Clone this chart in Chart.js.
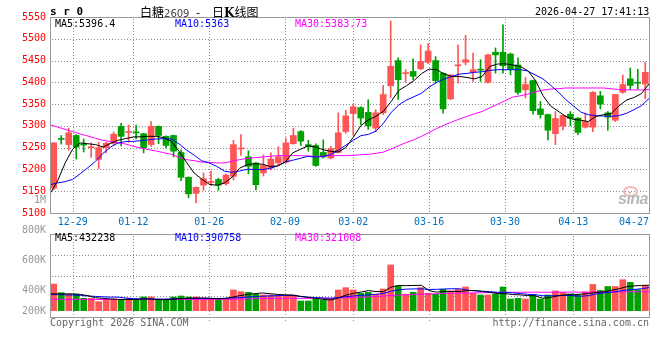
<!DOCTYPE html>
<html><head><meta charset="utf-8">
<script src="https://cdn.jsdelivr.net/npm/chart.js@4.4.1/dist/chart.umd.min.js"></script>
<style>
html,body{margin:0;padding:0;background:#fff;}
#wrap{position:relative;width:660px;height:360px;overflow:hidden;background:#fff;}
canvas{position:absolute;left:0;}
.t{position:absolute;white-space:pre;font-family:"DejaVu Sans Mono",monospace;font-size:10px;line-height:12px;}
</style></head><body>
<div id="wrap">
<canvas id="pc" width="660" height="232" style="top:0px;width:660px;height:232px"></canvas>
<canvas id="vc" width="660" height="110" style="top:222px;width:660px;height:110px"></canvas>
<div class="t" style="left:50px;top:5px;font-weight:bold;font-size:11px;line-height:13px">s r 0</div>
<div class="t" style="left:140px;top:4px;font-family:'Noto Sans CJK SC';font-size:12px;line-height:15px">白糖<span style="font-family:'DejaVu Sans';font-size:10px;color:#444">2609</span></div>
<div class="t" style="left:196px;top:4px;font-family:'Noto Sans CJK SC';font-size:12px;line-height:15px">-</div>
<div class="t" style="left:212px;top:4px;font-family:'Noto Sans CJK SC';font-size:12px;line-height:15px">日<b style="font-family:'DejaVu Serif'">K</b>线图</div>
<div class="t" style="left:535px;top:6px">2026-04-27 17:41:13</div>
<div class="t" id="pma5" style="left:55px;top:18px;color:#000"></div>
<div class="t" id="pma10" style="left:175px;top:18px;color:#0000ff"></div>
<div class="t" id="pma30" style="left:295px;top:18px;color:#ff00ff"></div>
<div class="t" id="vma5" style="left:55px;top:232px;color:#000"></div>
<div class="t" id="vma10" style="left:175px;top:232px;color:#0000ff"></div>
<div class="t" id="vma30" style="left:295px;top:232px;color:#ff00ff"></div>
<div class="t" style="left:50px;top:317px;color:#666">Copyright 2026 SINA.COM</div>
<div class="t" style="right:11px;top:317px;color:#666">http://finance.sina.com.cn</div>
<div style="position:absolute;left:623px;top:186px;width:11px;height:7px;border:2px solid #f5b8b8;border-radius:50%"></div>
<div style="position:absolute;left:618px;top:190px;font:italic bold 16px 'Liberation Sans';color:#b8b8b8;letter-spacing:-0.5px">sina</div>
</div>
<script>
// ---------------- data ----------------
const dates = [
'12-24','12-25','12-26','12-29','12-30','12-31','01-05','01-06','01-07','01-08',
'01-09','01-12','01-13','01-14','01-15','01-16','01-19','01-20','01-21','01-22',
'01-23','01-26','01-27','01-28','01-29','01-30','02-02','02-03','02-04','02-05',
'02-06','02-09','02-10','02-11','02-12','02-13','02-24','02-25','02-26','02-27',
'03-02','03-03','03-04','03-05','03-06','03-09','03-10','03-11','03-12','03-13',
'03-16','03-17','03-18','03-19','03-20','03-23','03-24','03-25','03-26','03-27',
'03-30','03-31','04-01','04-02','04-03','04-07','04-08','04-09','04-10','04-13',
'04-14','04-15','04-16','04-17','04-20','04-21','04-22','04-23','04-24','04-27'];

const opens = [
5157,5271,5257,5278,5259,5250,5223,5250,5260,5299,
5285,5286,5282,5257,5299,5276,5278,5239,5182,5145,
5164,5170,5177,5167,5184,5247,5229,5215,5192,5203,
5215,5217,5259,5287,5257,5255,5239,5226,5239,5287,
5328,5342,5331,5295,5330,5392,5450,5420,5425,5431,
5446,5450,5421,5362,5438,5446,5423,5430,5400,5469,
5469,5465,5440,5383,5404,5339,5326,5282,5299,5327,
5318,5297,5297,5369,5330,5313,5377,5408,5399,5396];
const highs = [
5262,5278,5295,5280,5270,5261,5262,5262,5286,5306,
5302,5302,5283,5310,5300,5277,5279,5245,5183,5160,
5192,5196,5180,5190,5267,5280,5243,5216,5233,5238,
5252,5272,5295,5289,5267,5259,5268,5253,5330,5336,
5349,5344,5360,5337,5393,5541,5456,5429,5454,5486,
5489,5459,5422,5417,5486,5508,5467,5452,5465,5479,
5532,5467,5456,5411,5405,5356,5327,5333,5324,5333,
5319,5329,5379,5379,5333,5372,5417,5433,5430,5446];
const lows = [
5153,5258,5244,5224,5240,5228,5202,5238,5257,5254,
5262,5270,5238,5253,5259,5249,5229,5174,5135,5123,
5152,5163,5152,5164,5176,5232,5190,5153,5185,5199,
5211,5215,5258,5255,5242,5207,5226,5224,5238,5283,
5278,5303,5292,5287,5326,5365,5361,5400,5406,5429,
5443,5398,5329,5360,5398,5440,5402,5402,5398,5421,
5421,5417,5372,5364,5327,5318,5268,5257,5291,5300,
5280,5295,5287,5339,5290,5310,5375,5383,5384,5362];
const closes = [
5261,5269,5284,5251,5256,5252,5250,5260,5281,5276,
5287,5284,5250,5299,5278,5255,5242,5182,5144,5159,
5179,5172,5164,5187,5257,5248,5207,5165,5209,5224,
5229,5261,5278,5265,5252,5209,5229,5248,5284,5323,
5344,5318,5300,5330,5372,5437,5406,5422,5414,5448,
5472,5404,5339,5417,5439,5452,5429,5428,5463,5463,
5438,5429,5377,5395,5335,5326,5290,5317,5324,5317,
5285,5310,5377,5350,5320,5372,5395,5393,5398,5423];

const ma5 = [
5144.5,5173.6,5215,5247,5261,5259,5257,5251.5,5260,5267,
5271,5274.5,5275,5276,5276,5273,5264.5,5242,5216.6,5192,
5178,5166,5163.6,5169,5182,5202.6,5211,5213,5212,5207,
5208,5216.4,5238,5246,5254,5251.5,5245.4,5241.6,5240,5250,
5274,5300.5,5314,5322,5334,5356,5381.5,5392,5404,5420,
5430.4,5429,5419,5413.6,5413.6,5411,5408,5413.6,5436.5,5442,
5442.7,5440,5436.5,5427,5405,5370,5346,5334,5322,5315,
5313,5310,5322,5325.7,5328,5345,5359,5365,5374,5396.4];
const ma10 = [
5165,5169,5172,5177.4,5190.4,5204,5218.6,5237,5251.5,5261,
5264,5264.5,5266,5268,5270,5270.6,5270,5259,5244.6,5233,
5220,5215,5207,5196,5193.4,5196.5,5200.3,5200.3,5199.5,5202.6,
5208,5217,5221,5225.5,5230,5228.6,5229.4,5234,5244,5255.3,
5266.8,5277.5,5280.6,5288,5306.6,5331,5348,5359.3,5367,5375,
5389,5400,5407.5,5413.6,5419,5420.5,5423,5424.3,5427.4,5429,
5429,5429,5429,5426,5417,5408,5393.7,5378.4,5360.8,5346.3,
5331.8,5325.7,5323.4,5322.6,5322,5323.4,5328.7,5337,5346.3,5363];
const ma30 = [
5302.7,5297.4,5292,5286.7,5281.3,5276.8,5271.4,5266.8,5263.8,5260.7,
5258.4,5253,5249.2,5245.4,5242.4,5238.5,5234.7,5227.8,5222.5,5220.2,
5217,5216.4,5215,5215,5218.7,5222.5,5225.5,5227,5228.6,5230,
5231.7,5231.7,5231.7,5231.7,5231,5230,5231,5231.7,5231.7,5231.7,
5232.4,5234,5234.7,5237,5240,5247,5254.6,5262,5268.3,5276,
5285,5294,5302,5309,5315.7,5322,5328,5333,5341.7,5349.4,
5357.8,5366,5369,5373,5378.4,5382.3,5384.6,5385.3,5387,5387,
5387,5387,5387,5387,5385.3,5383.5,5383,5382.5,5382.5,5383.73];

const volumes = [
452000,305000,278000,278000,210000,210000,153000,193000,198000,193000,
210000,181000,232000,232000,181000,181000,232000,249000,232000,232000,
198000,198000,198000,210000,351000,322000,311000,278000,266000,266000,
266000,266000,266000,164000,164000,193000,181000,195000,351000,390000,
351000,295000,311000,278000,368000,775000,419000,278000,311000,390000,
295000,278000,362000,334000,362000,402000,295000,266000,266000,278000,
402000,198000,210000,198000,278000,198000,266000,334000,311000,285000,
272000,318000,445000,342000,410000,410000,525000,480000,355000,425000];
const volMa5 = [
285000,285000,285000,285000,277000,254000,220000,209000,198000,192000,
190000,190000,195000,200000,190000,186000,192000,200000,209000,212000,
215000,212000,205000,205000,228000,255000,275000,290000,300000,288000,
276000,268000,264000,245000,225000,210000,194000,180000,217000,262000,
294000,316000,340000,325000,321000,400000,428000,424000,428000,430000,
339000,315000,325000,328000,325000,340000,342000,327000,310000,290000,
290000,274000,268000,256000,250000,212000,225000,252000,270000,270000,
280000,290000,310000,320000,345000,370000,405000,420000,428000,432238];
const volMa10 = [
275000,272000,268000,265000,258000,250000,242000,235000,230000,230000,
215000,205000,200000,200000,198000,197000,200000,205000,207000,210000,
210000,208000,207000,210000,215000,222000,230000,240000,245000,250000,
255000,258000,260000,240000,230000,222000,215000,210000,220000,238000,
250000,260000,268000,278000,292000,330000,355000,366000,370000,370000,
360000,362000,368000,372000,372000,350000,335000,330000,323000,312000,
312000,302000,290000,278000,270000,254000,252000,256000,258000,255000,
245000,255000,283000,300000,313000,330000,350000,360000,372000,390758];
const volMa30 = [
195000,194000,193000,192000,192000,191000,190000,190000,190000,190000,
190000,190000,190000,190000,190000,190000,190000,190000,191000,192000,
192000,192000,192000,193000,195000,198000,200000,203000,205000,207000,
208000,210000,210000,210000,210000,210000,211000,212000,215000,220000,
225000,230000,236000,242000,248000,258000,266000,270000,275000,280000,
285000,288000,292000,295000,298000,300000,302000,304000,306000,308000,
312000,312000,313000,313000,314000,313000,313000,314000,315000,315000,
314000,314000,316000,316000,317000,318000,320000,321000,321000,321008];

// tick labels
const priceTicks = [5100,5150,5200,5250,5300,5350,5400,5450,5500,5550];
const periodLabel = '1M';
const xTickIdx = [3,11,21,31,40,50,60,69,79];
const volTickText = ['200K','400K','600K','800K'];

// ---------------- layout / style (not data) ----------------
const PERIOD_POS = 5129;                              // where the "1M" label sits
const VOL_LABEL_POS = [-5000,339000,847000,1356000];  // label anchors as drawn by the original
const VOL_GRID = [245000,596000,948000];
const UP = '#ff5555', DOWN = '#00a000', GRID = '#8c8c8c';
Chart.defaults.font.family = "'DejaVu Sans Mono', monospace";
Chart.defaults.font.size = 10;

const colors = closes.map((c,i)=> c >= opens[i] ? UP : DOWN);
const gridIdx = xTickIdx.slice(0,-1);

document.getElementById('pma5').textContent = 'MA5:' + ma5[ma5.length-1];
document.getElementById('pma10').textContent = 'MA10:' + ma10[ma10.length-1];
document.getElementById('pma30').textContent = 'MA30:' + ma30[ma30.length-1];
document.getElementById('vma5').textContent = 'MA5:' + volMa5[volMa5.length-1];
document.getElementById('vma10').textContent = 'MA10:' + volMa10[volMa10.length-1];
document.getElementById('vma30').textContent = 'MA30:' + volMa30[volMa30.length-1];

// dotted grid drawn as single-pixel dots at positions taken from the chart's own scales
function dotsH(ctx, y, x0, x1){ for (let x = x0; x <= x1; x += 3) ctx.fillRect(x, y, 1, 1); }
function dotsV(ctx, x, y0, y1){ for (let y = y0; y <= y1; y += 3) ctx.fillRect(x, y, 1, 1); }
const dotGrid = {id:'dotgrid',
  beforeDatasetsDraw(chart, args, opts){
    const {ctx, chartArea:a, scales} = chart;
    const L = Math.round(a.left), R = Math.round(a.right), T = Math.round(a.top), B = Math.round(a.bottom);
    ctx.save(); ctx.fillStyle = GRID;
    (opts.h || []).forEach(v => dotsH(ctx, Math.round(scales.y.getPixelForValue(v)), L + 2, R - 1));
    gridIdx.forEach(k => dotsV(ctx, Math.round(scales.xg.getPixelForValue(k)), T + 2, B - 1 + (opts.ext || 0)));
    ctx.restore();
  },
  afterDraw(chart){
    const {ctx, chartArea:a} = chart;
    ctx.save(); ctx.setLineDash([]); ctx.strokeStyle = '#999999'; ctx.lineWidth = 1;
    ctx.strokeRect(Math.round(a.left)+0.5, Math.round(a.top)+0.5, Math.round(a.right-a.left), Math.round(a.bottom-a.top));
    ctx.restore();
  }
};

function lineDs(label, arr, color){
  return {type:'line', label, data: arr.map((v,k)=>({x:k, y:v})), xAxisID:'xg', yAxisID:'y',
    borderColor: color, borderWidth: 1, pointRadius: 0, fill: false, tension: 0, order: 1};
}
function xgAxis(height, showLabels){
  return {type:'linear', position:'bottom', min:0, max:dates.length-1, offset:false,
    afterBuildTicks: s => { s.ticks = [{value:0}].concat(xTickIdx.map(v=>({value:v}))); },
    afterFit: s => { s.height = height; },
    grid: {display:false, offset:false, drawTicks:false},
    border: {display:false},
    ticks: {display: showLabels, autoSkip:false, maxRotation:0, minRotation:0, align:'inner', padding:3,
      color:'#0070c0', callback: v => v === 0 ? '' : dates[v]}
  };
}

new Chart(document.getElementById('pc'), {
  type:'bar',
  data:{labels: dates, datasets:[
    lineDs('MA5', ma5, '#000000'),
    lineDs('MA10', ma10, '#0000ff'),
    lineDs('MA30', ma30, '#ff00ff'),
    {label:'body', data: opens.map((o,i)=>[o, closes[i]]), backgroundColor: colors, barThickness:6,
      minBarLength:1, grouped:false, xAxisID:'x', yAxisID:'y', order:4},
    {label:'wick', data: lows.map((l,i)=>[l, highs[i]]), backgroundColor: colors, barThickness:1,
      grouped:false, xAxisID:'x', yAxisID:'y', order:5}
  ]},
  options:{
    responsive:false, animation:false, devicePixelRatio:1,
    layout:{padding:{top:17, right:11, left:0, bottom:0}},
    plugins:{legend:{display:false}, tooltip:{enabled:false},
      dotgrid:{h: priceTicks.slice(1,-1), ext:0}},
    scales:{
      x:{type:'category', display:false, offset:true},
      xg: xgAxis(19, true),
      y:{type:'linear', position:'left', min:5100, max:5550, beginAtZero:false,
        afterBuildTicks: s => { s.ticks = [{value:priceTicks[0]},{value:PERIOD_POS}].concat(priceTicks.slice(1).map(v=>({value:v}))); },
        afterFit: s => { s.width = 50; },
        grid:{display:false, drawTicks:false},
        border:{display:false},
        ticks:{autoSkip:false, padding:4,
          color: c => (c.tick && c.tick.value===PERIOD_POS) ? '#999999' : '#ff0000',
          callback: v => v===PERIOD_POS ? periodLabel : String(v)}
      }
    }
  },
  plugins:[dotGrid]
});

new Chart(document.getElementById('vc'), {
  type:'bar',
  data:{labels: dates, datasets:[
    lineDs('MA5', volMa5, '#000000'),
    lineDs('MA10', volMa10, '#0000ff'),
    lineDs('MA30', volMa30, '#ff00ff'),
    {label:'vol', data: volumes, backgroundColor: colors, barThickness:6, grouped:false, xAxisID:'x', yAxisID:'y', order:4}
  ]},
  options:{
    responsive:false, animation:false, devicePixelRatio:1,
    layout:{padding:{top:12, right:11, left:0, bottom:0}},
    plugins:{legend:{display:false}, tooltip:{enabled:false},
      dotgrid:{h: VOL_GRID, ext:4}},
    scales:{
      x:{type:'category', display:false, offset:true},
      xg: xgAxis(15, false),
      y:{type:'linear', position:'left', min:-107000, max:1300000,
        afterBuildTicks: s => { s.ticks = VOL_LABEL_POS.map(v=>({value:v})); },
        afterFit: s => { s.width = 50; },
        grid:{display:false, drawTicks:false},
        border:{display:false},
        ticks:{autoSkip:false, padding:4, color:'#999999',
          callback: v => { const i = VOL_LABEL_POS.indexOf(v); return i>=0 ? volTickText[i] : ''; }}
      }
    }
  },
  plugins:[dotGrid]
});
</script>
</body></html>
